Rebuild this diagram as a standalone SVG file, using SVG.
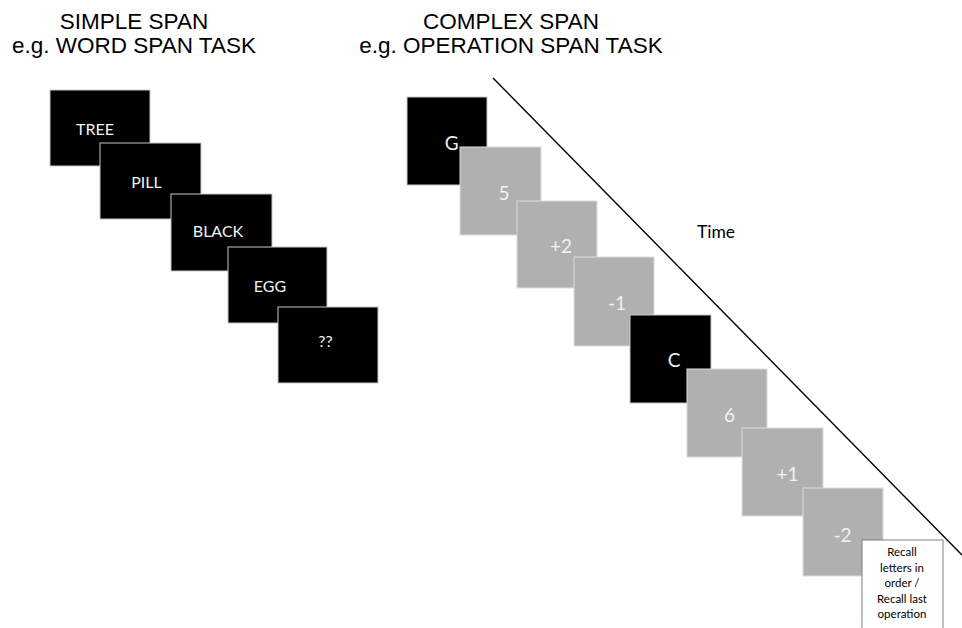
<svg xmlns="http://www.w3.org/2000/svg" width="962" height="628" viewBox="0 0 962 628">
<style>
.title{font-family:"Liberation Sans",Arial,sans-serif;font-size:22.5px;fill:#000;text-anchor:middle}
.blk{fill:#000;stroke:#c8c8c8;stroke-width:1}
.gry{fill:#b0b0b0;stroke:#dcdcdc;stroke-width:1}
.word{font-family:Lato,"Open Sans",sans-serif;font-size:16px;fill:#f2f2f2;text-anchor:middle}
.num{font-family:Lato,"Open Sans",sans-serif;font-size:19px;fill:#f2f2f2;text-anchor:middle}
.lbl{font-family:Lato,"Open Sans",sans-serif;font-size:17.5px;fill:#000}
.rec{font-family:Lato,"Open Sans",sans-serif;font-size:11.5px;fill:#000;text-anchor:middle}
</style>
<rect width="962" height="628" fill="#fff"/>
<g id="titles">
<text class="title" x="134" y="29">SIMPLE SPAN</text>
<text class="title" x="134" y="53">e.g. WORD SPAN TASK</text>
<text class="title" x="511" y="29">COMPLEX SPAN</text>
<text class="title" x="511" y="53">e.g. OPERATION SPAN TASK</text>
</g>
<g id="connectors">
<line x1="493" y1="78" x2="962" y2="555" stroke="#000" stroke-width="1.4"/>
</g>
<g id="time-label"><text class="lbl" x="697" y="238">Time</text></g>
<g id="simple-span">
<g id="w-tree"><rect class="blk" x="50" y="90" width="100" height="76"/><text class="word" x="95" y="135">TREE</text></g>
<g id="w-pill"><rect class="blk" x="100" y="143" width="101" height="76"/><text class="word" x="146.5" y="188">PILL</text></g>
<g id="w-black"><rect class="blk" x="171" y="194" width="101" height="77"/><text class="word" x="218" y="237">BLACK</text></g>
<g id="w-egg"><rect class="blk" x="228" y="247" width="99" height="76"/><text class="word" x="270" y="292">EGG</text></g>
<g id="w-recall"><rect class="blk" x="278" y="307" width="100" height="76"/><text class="word" x="325.5" y="347">??</text></g>
</g>
<g id="complex-span">
<g id="c-g"><rect class="blk" x="407" y="97" width="80" height="88"/><text class="num" x="451.7" y="149.5">G</text></g>
<g id="c-5"><rect class="gry" x="460" y="147" width="81" height="88"/><text class="num" x="504" y="200">5</text></g>
<g id="c-p2"><rect class="gry" x="517" y="201" width="80" height="87"/><text class="num" x="561" y="253">+2</text></g>
<g id="c-m1"><rect class="gry" x="574" y="257" width="80" height="89"/><text class="num" x="617" y="310">-1</text></g>
<g id="c-c"><rect class="blk" x="630" y="315" width="81" height="88"/><text class="num" x="674" y="367">C</text></g>
<g id="c-6"><rect class="gry" x="687" y="369" width="80" height="88"/><text class="num" x="729.5" y="422">6</text></g>
<g id="c-p1"><rect class="gry" x="742" y="428" width="81" height="88"/><text class="num" x="787.5" y="481">+1</text></g>
<g id="c-m2"><rect class="gry" x="803" y="488" width="80" height="88"/><text class="num" x="842.5" y="542">-2</text></g>
<g id="c-recall"><rect x="862" y="540" width="81" height="100" fill="#fff" stroke="#808080" stroke-width="1"/>
<text class="rec" x="902" y="556">Recall</text>
<text class="rec" x="902" y="571.7">letters in</text>
<text class="rec" x="902" y="587.3">order /</text>
<text class="rec" x="902" y="602.7">Recall last</text>
<text class="rec" x="902" y="618.3">operation</text>
</g>
</g>
</svg>
